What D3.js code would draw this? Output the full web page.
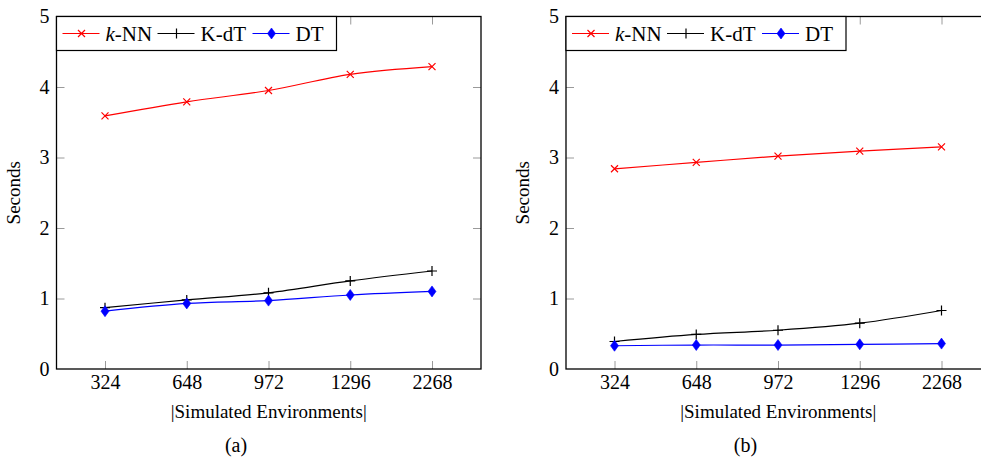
<!DOCTYPE html>
<html>
<head>
<meta charset="utf-8">
<script src="https://cdn.jsdelivr.net/npm/d3@7"></script>
<style>
  body { margin: 0; background: #fff; }
  svg { display: block; }
  svg text { font-family: "Liberation Serif", "DejaVu Serif", serif; }
</style>
</head>
<body>
<svg id="chart" width="981" height="457"></svg>
<script>
// values
const categories = ["324", "648", "972", "1296", "2268"];
const yTicks = [0, 1, 2, 3, 4, 5];
const seriesNames = ["k-NN", "K-dT", "DT"];

const knnA = [3.59, 3.79, 3.95, 4.18, 4.29];
const kdtA = [0.87, 0.98, 1.08, 1.25, 1.39];
const dtA = [0.82, 0.93, 0.97, 1.05, 1.10];

const knnB = [2.84, 2.93, 3.02, 3.09, 3.15];
const kdtB = [0.39, 0.49, 0.55, 0.65, 0.83];
const dtB = [0.33, 0.34, 0.34, 0.35, 0.36];

const colors = { "k-NN": "#ff0000", "K-dT": "#000000", "DT": "#0000ff" };

const svg = d3.select("#chart");

function marker(g, name, x, y) {
  const c = colors[name];
  if (name === "k-NN") {
    const s = 3.5;
    g.append("path")
      .attr("d", `M${x - s},${y - s}L${x + s},${y + s}M${x - s},${y + s}L${x + s},${y - s}`)
      .attr("stroke", c).attr("stroke-width", 1.2).attr("fill", "none");
  } else if (name === "K-dT") {
    const s = 5;
    g.append("path")
      .attr("d", `M${x - s},${y}L${x + s},${y}M${x},${y - s}L${x},${y + s}`)
      .attr("stroke", c).attr("stroke-width", 1.2).attr("fill", "none");
  } else {
    g.append("path")
      .attr("d", `M${x},${y - 5.5}L${x + 4},${y}L${x},${y + 5.5}L${x - 4},${y}Z`)
      .attr("fill", c).attr("stroke", c).attr("stroke-width", 0.6);
  }
}

function panel(offset, series, caption) {
  const left = 56.5 + offset, right = 481 + offset, top = 16.5, bottom = 369;
  const g = svg.append("g");

  const x = d3.scalePoint().domain(categories).range([left + 48.5, right - 49]);
  const y = d3.scaleLinear().domain([0, 5]).range([bottom, top]);

  const tickColor = "#9a9a9a";

  const xb = g.append("g").attr("transform", `translate(0,${bottom})`)
    .call(d3.axisBottom(x).tickSize(-8).tickPadding(6));
  const xt = g.append("g").attr("transform", `translate(0,${top})`)
    .call(d3.axisTop(x).tickSize(-8).tickFormat(""));
  const yl = g.append("g").attr("transform", `translate(${left},0)`)
    .call(d3.axisLeft(y).tickValues(yTicks).tickSize(-8).tickPadding(7).tickFormat(d3.format("d")));
  const yr = g.append("g").attr("transform", `translate(${right},0)`)
    .call(d3.axisRight(y).tickValues(yTicks).tickSize(-8).tickFormat(""));

  [xb, xt, yl, yr].forEach(a => {
    a.attr("font-family", null).attr("font-size", null);
    a.select(".domain").remove();
    a.selectAll(".tick line").attr("stroke", tickColor).attr("stroke-width", 1);
    a.selectAll("text").attr("font-size", 20).attr("fill", "#000");
  });
  // drop end ticks that sit on the frame
  yl.selectAll(".tick").filter(d => d === 0 || d === 5).select("line").remove();
  yr.selectAll(".tick").filter(d => d === 0 || d === 5).select("line").remove();

  const line = d3.line()
    .x((d, i) => x(categories[i]))
    .y(d => y(d))
    .curve(d3.curveCatmullRom.alpha(0.5));

  seriesNames.forEach((name, k) => {
    const vals = series[k];
    g.append("path").datum(vals)
      .attr("d", line)
      .attr("fill", "none")
      .attr("stroke", colors[name])
      .attr("stroke-width", 1.2);
    vals.forEach((v, i) => marker(g, name, x(categories[i]), y(v)));
  });

  // frame
  g.append("rect")
    .attr("x", left).attr("y", top)
    .attr("width", right - left).attr("height", bottom - top)
    .attr("fill", "none").attr("stroke", "#000").attr("stroke-width", 1.3);

  // legend
  const lg = g.append("g").attr("transform", `translate(${left},${top})`);
  lg.append("rect").attr("x", 0).attr("y", 0).attr("width", 280).attr("height", 34)
    .attr("fill", "#fff").attr("stroke", "#000").attr("stroke-width", 1.2);
  const lx = [6, 101, 196];
  seriesNames.forEach((name, k) => {
    const x0 = lx[k];
    lg.append("line").attr("x1", x0).attr("x2", x0 + 37).attr("y1", 17).attr("y2", 17)
      .attr("stroke", colors[name]).attr("stroke-width", 1.2);
    marker(lg, name, x0 + 19, 17);
    const t = lg.append("text").attr("x", x0 + 43).attr("y", 24).attr("font-size", 21);
    if (name === "k-NN") {
      t.append("tspan").attr("font-style", "italic").text("k");
      t.append("tspan").text("-NN");
    } else {
      t.text(name);
    }
  });

  // axis titles
  g.append("text")
    .attr("transform", `translate(${left - 37},${(top + bottom) / 2}) rotate(-90)`)
    .attr("text-anchor", "middle").attr("font-size", 19).text("Seconds");
  g.append("text")
    .attr("x", (left + right) / 2).attr("y", 418)
    .attr("text-anchor", "middle").attr("font-size", 19).text("|Simulated Environments|");
  g.append("text")
    .attr("x", 236 + offset).attr("y", 452)
    .attr("text-anchor", "middle").attr("font-size", 20).text(caption);
}

panel(0, [knnA, kdtA, dtA], "(a)");
panel(509.5, [knnB, kdtB, dtB], "(b)");
</script>
</body>
</html>
